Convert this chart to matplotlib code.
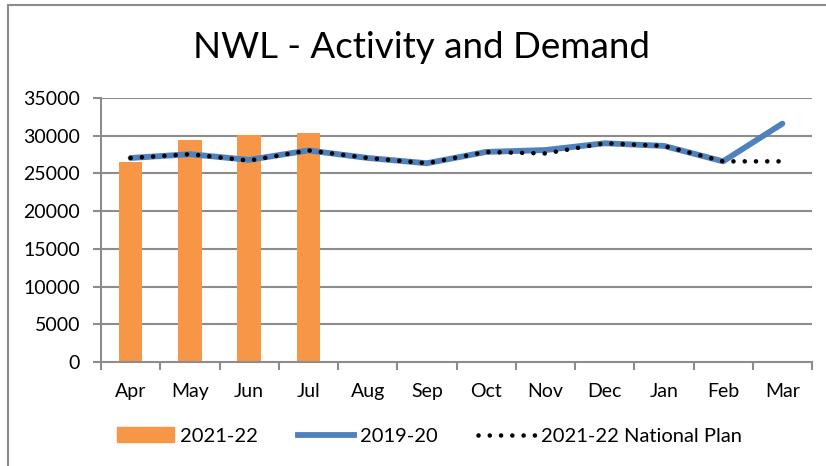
import numpy as np
import matplotlib.pyplot as plt
from matplotlib.patches import Rectangle
from matplotlib.lines import Line2D

plt.rcParams['font.family'] = ['Lato', 'DejaVu Sans']

months = ["Apr", "May", "Jun", "Jul", "Aug", "Sep", "Oct", "Nov", "Dec", "Jan", "Feb", "Mar"]
actual_2122 = [26450, 29450, 30050, 30400]
base_1920 = [27050, 27550, 26800, 28050, 27050, 26350, 27850, 28100, 29000, 28650, 26600, 31600]
plan_2122 = [27050, 27550, 26700, 28050, 27050, 26350, 27850, 27650, 29000, 28650, 26600, 26600]
yticks = [0, 5000, 10000, 15000, 20000, 25000, 30000, 35000]

grey = "#8c8c8c"
orange = "#F79646"
blue = "#4F81BD"

fig = plt.figure(figsize=(8.26, 4.66), dpi=100)
ax = fig.add_axes([101 / 826, 1 - 362 / 466, (812 - 101) / 826, (362 - 98) / 466])

x = np.arange(len(months))
ax.bar(x[:len(actual_2122)], actual_2122, width=0.4, color=orange, zorder=2)
ax.plot(x, base_1920, color=blue, lw=4.2, solid_capstyle="round", zorder=3)
ax.plot(x, plan_2122, color="black", lw=3.3, linestyle=(0, (0.01, 2.45)),
        dash_capstyle="round", zorder=4)

ax.set_xlim(-0.5, 11.5)
ax.set_ylim(0, 35000)
ax.set_yticks(yticks)
ax.set_yticklabels([str(v) for v in yticks])
ax.set_xticks(x)
ax.set_xticklabels(months)
ax.set_xticks(np.arange(-0.5, 12, 1), minor=True)
ax.tick_params(axis="x", which="major", length=0, pad=15, labelsize=14)
ax.tick_params(axis="x", which="minor", length=6, width=1.5, color=grey)
ax.tick_params(axis="y", length=6, width=1.5, color=grey, labelsize=14, pad=9)
for v in yticks[1:]:
    ax.axhline(v, color=grey, lw=1.5, zorder=1)
for s in ["top", "right"]:
    ax.spines[s].set_visible(False)
for s in ["left", "bottom"]:
    ax.spines[s].set_color(grey)
    ax.spines[s].set_linewidth(1.5)

fig.text(0.51, 1 - 47 / 466, "NWL - Activity and Demand", ha="center", va="center", fontsize=26.5)

handles = [
    Rectangle((0, 0), 1, 1, color=orange),
    Line2D([], [], color=blue, lw=4.2),
    Line2D([], [], color="black", lw=3.3, linestyle=(0, (0.01, 2.45)), dash_capstyle="round"),
]
fig.legend(handles, ["2021-22", "2019-20", "2021-22 National Plan"], loc="center",
           bbox_to_anchor=(0.52, 1 - 436 / 466), ncol=3, frameon=False, fontsize=14.5,
           handlelength=2.8, handletextpad=0.3, columnspacing=2.0)

fig.add_artist(Rectangle((8 / 826, -0.1), 1.0, 1 - 5.5 / 466 + 0.1, transform=fig.transFigure,
                         fill=False, edgecolor=grey, lw=1.5))

fig.savefig("out.png", dpi=100)
